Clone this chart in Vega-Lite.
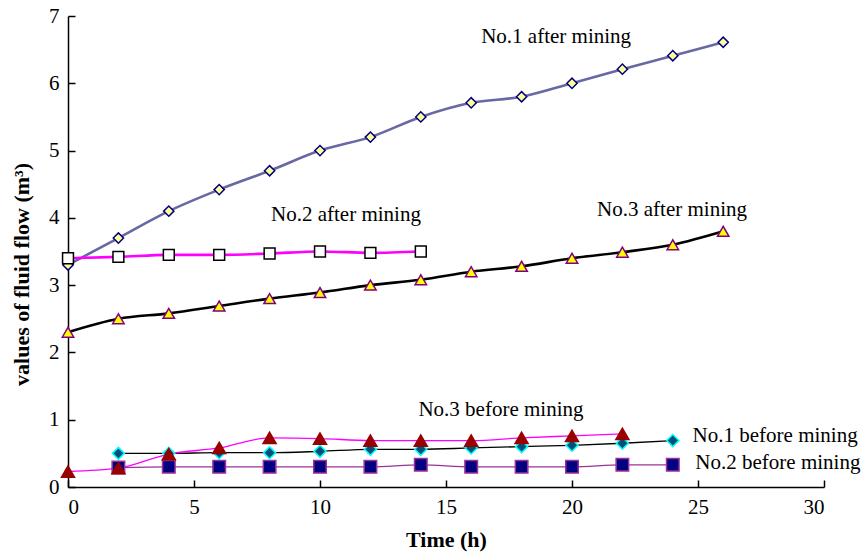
{
  "$schema": "https://vega.github.io/schema/vega-lite/v6.json",
  "width": 756,
  "height": 471,
  "autosize": "none",
  "padding": {"left": 68, "top": 16, "right": 38, "bottom": 66},
  "background": "white",
  "config": {
    "font": "Liberation Serif",
    "view": {"stroke": null},
    "axis": {
      "grid": false,
      "domainColor": "#000000",
      "domainWidth": 1.5,
      "tickColor": "#000000",
      "tickWidth": 1.5,
      "tickOpacity": 1,
      "labelFont": "Liberation Serif",
      "labelFontSize": 21,
      "labelColor": "#000000",
      "titleFont": "Liberation Serif",
      "titleFontSize": 22,
      "titleFontWeight": "bold",
      "titleColor": "#000000"
    }
  },
  "datasets": {
    "flow": [
      {"s": "No.1 after mining", "g": "after", "t": 0, "v": 3.3},
      {"s": "No.1 after mining", "g": "after", "t": 2, "v": 3.7},
      {"s": "No.1 after mining", "g": "after", "t": 4, "v": 4.1},
      {"s": "No.1 after mining", "g": "after", "t": 6, "v": 4.42},
      {"s": "No.1 after mining", "g": "after", "t": 8, "v": 4.7},
      {"s": "No.1 after mining", "g": "after", "t": 10, "v": 5.0},
      {"s": "No.1 after mining", "g": "after", "t": 12, "v": 5.2},
      {"s": "No.1 after mining", "g": "after", "t": 14, "v": 5.5},
      {"s": "No.1 after mining", "g": "after", "t": 16, "v": 5.71},
      {"s": "No.1 after mining", "g": "after", "t": 18, "v": 5.8},
      {"s": "No.1 after mining", "g": "after", "t": 20, "v": 6.0},
      {"s": "No.1 after mining", "g": "after", "t": 22, "v": 6.21},
      {"s": "No.1 after mining", "g": "after", "t": 24, "v": 6.41},
      {"s": "No.1 after mining", "g": "after", "t": 26, "v": 6.61},
      {"s": "No.2 after mining", "g": "after", "t": 0, "v": 3.4},
      {"s": "No.2 after mining", "g": "after", "t": 2, "v": 3.42},
      {"s": "No.2 after mining", "g": "after", "t": 4, "v": 3.45},
      {"s": "No.2 after mining", "g": "after", "t": 6, "v": 3.45},
      {"s": "No.2 after mining", "g": "after", "t": 8, "v": 3.47},
      {"s": "No.2 after mining", "g": "after", "t": 10, "v": 3.5},
      {"s": "No.2 after mining", "g": "after", "t": 12, "v": 3.48},
      {"s": "No.2 after mining", "g": "after", "t": 14, "v": 3.5},
      {"s": "No.3 after mining", "g": "after", "t": 0, "v": 2.3},
      {"s": "No.3 after mining", "g": "after", "t": 2, "v": 2.5},
      {"s": "No.3 after mining", "g": "after", "t": 4, "v": 2.58},
      {"s": "No.3 after mining", "g": "after", "t": 6, "v": 2.69},
      {"s": "No.3 after mining", "g": "after", "t": 8, "v": 2.8},
      {"s": "No.3 after mining", "g": "after", "t": 10, "v": 2.89},
      {"s": "No.3 after mining", "g": "after", "t": 12, "v": 3.0},
      {"s": "No.3 after mining", "g": "after", "t": 14, "v": 3.08},
      {"s": "No.3 after mining", "g": "after", "t": 16, "v": 3.2},
      {"s": "No.3 after mining", "g": "after", "t": 18, "v": 3.28},
      {"s": "No.3 after mining", "g": "after", "t": 20, "v": 3.4},
      {"s": "No.3 after mining", "g": "after", "t": 22, "v": 3.49},
      {"s": "No.3 after mining", "g": "after", "t": 24, "v": 3.6},
      {"s": "No.3 after mining", "g": "after", "t": 26, "v": 3.8},
      {"s": "No.1 before mining", "g": "before", "t": 2, "v": 0.5},
      {"s": "No.1 before mining", "g": "before", "t": 4, "v": 0.5},
      {"s": "No.1 before mining", "g": "before", "t": 6, "v": 0.51},
      {"s": "No.1 before mining", "g": "before", "t": 8, "v": 0.51},
      {"s": "No.1 before mining", "g": "before", "t": 10, "v": 0.53},
      {"s": "No.1 before mining", "g": "before", "t": 12, "v": 0.56},
      {"s": "No.1 before mining", "g": "before", "t": 14, "v": 0.56},
      {"s": "No.1 before mining", "g": "before", "t": 16, "v": 0.58},
      {"s": "No.1 before mining", "g": "before", "t": 18, "v": 0.6},
      {"s": "No.1 before mining", "g": "before", "t": 20, "v": 0.62},
      {"s": "No.1 before mining", "g": "before", "t": 22, "v": 0.65},
      {"s": "No.1 before mining", "g": "before", "t": 24, "v": 0.69},
      {"s": "No.2 before mining", "g": "before", "t": 2, "v": 0.29},
      {"s": "No.2 before mining", "g": "before", "t": 4, "v": 0.3},
      {"s": "No.2 before mining", "g": "before", "t": 6, "v": 0.3},
      {"s": "No.2 before mining", "g": "before", "t": 8, "v": 0.3},
      {"s": "No.2 before mining", "g": "before", "t": 10, "v": 0.3},
      {"s": "No.2 before mining", "g": "before", "t": 12, "v": 0.3},
      {"s": "No.2 before mining", "g": "before", "t": 14, "v": 0.33},
      {"s": "No.2 before mining", "g": "before", "t": 16, "v": 0.3},
      {"s": "No.2 before mining", "g": "before", "t": 18, "v": 0.3},
      {"s": "No.2 before mining", "g": "before", "t": 20, "v": 0.3},
      {"s": "No.2 before mining", "g": "before", "t": 22, "v": 0.33},
      {"s": "No.2 before mining", "g": "before", "t": 24, "v": 0.33},
      {"s": "No.3 before mining", "g": "before", "t": 0, "v": 0.23},
      {"s": "No.3 before mining", "g": "before", "t": 2, "v": 0.28},
      {"s": "No.3 before mining", "g": "before", "t": 4, "v": 0.49},
      {"s": "No.3 before mining", "g": "before", "t": 6, "v": 0.58},
      {"s": "No.3 before mining", "g": "before", "t": 8, "v": 0.73},
      {"s": "No.3 before mining", "g": "before", "t": 10, "v": 0.72},
      {"s": "No.3 before mining", "g": "before", "t": 12, "v": 0.69},
      {"s": "No.3 before mining", "g": "before", "t": 14, "v": 0.69},
      {"s": "No.3 before mining", "g": "before", "t": 16, "v": 0.69},
      {"s": "No.3 before mining", "g": "before", "t": 18, "v": 0.73},
      {"s": "No.3 before mining", "g": "before", "t": 20, "v": 0.76},
      {"s": "No.3 before mining", "g": "before", "t": 22, "v": 0.79}
    ],
    "labels": [
      {"text": "No.1 after mining", "t": 19.37, "v": 6.69},
      {"text": "No.2 after mining", "t": 11.03, "v": 4.04},
      {"text": "No.3 after mining", "t": 23.97, "v": 4.12},
      {"text": "No.3 before mining", "t": 17.18, "v": 1.14},
      {"text": "No.1 before mining", "t": 28.06, "v": 0.76},
      {"text": "No.2 before mining", "t": 28.17, "v": 0.35}
    ]
  },
  "encoding": {
    "x": {
      "field": "t", "type": "quantitative",
      "scale": {"domain": [0, 30], "nice": false},
      "axis": {"values": [0, 5, 10, 15, 20, 25, 30], "title": "Time (h)", "ticks": true, "tickSize": -7, "labelPadding": 16, "titlePadding": 12}
    },
    "y": {
      "field": "v", "type": "quantitative",
      "scale": {"domain": [0, 7], "nice": false},
      "axis": {"values": [0, 1, 2, 3, 4, 5, 6, 7], "title": "values of  fluid flow (m³)", "ticks": true, "tickSize": -7, "labelPadding": 16, "titleX": -35, "titleY": 258}
    }
  },
  "layer": [
    {
      "data": {"name": "flow"},
      "transform": [{"filter": "datum.g == 'after'"}],
      "mark": {"type": "line", "interpolate": "monotone", "strokeWidth": 2.6},
      "encoding": {
        "stroke": {
          "field": "s", "type": "nominal", "legend": null,
          "scale": {
            "domain": ["No.1 after mining", "No.2 after mining", "No.3 after mining", "No.1 before mining", "No.2 before mining", "No.3 before mining"],
            "range": ["#6868A2", "#FF00FF", "#000000", "#000000", "#993399", "#FF00FF"]
          }
        }
      }
    },
    {
      "data": {"name": "flow"},
      "transform": [{"filter": "datum.g == 'before'"}],
      "mark": {"type": "line", "interpolate": "monotone", "strokeWidth": 1.3},
      "encoding": {
        "stroke": {
          "field": "s", "type": "nominal", "legend": null,
          "scale": {
            "domain": ["No.1 after mining", "No.2 after mining", "No.3 after mining", "No.1 before mining", "No.2 before mining", "No.3 before mining"],
            "range": ["#6868A2", "#FF00FF", "#000000", "#000000", "#993399", "#FF00FF"]
          }
        }
      }
    },
    {
      "data": {"name": "flow"},
      "mark": {"type": "point", "opacity": 1, "fillOpacity": 1, "strokeWidth": 1.5},
      "encoding": {
        "shape": {
          "field": "s", "type": "nominal", "legend": null,
          "scale": {
            "domain": ["No.1 after mining", "No.2 after mining", "No.3 after mining", "No.1 before mining", "No.2 before mining", "No.3 before mining"],
            "range": ["diamond", "square", "triangle-up", "diamond", "square", "triangle-up"]
          }
        },
        "fill": {
          "field": "s", "type": "nominal", "legend": null,
          "scale": {
            "domain": ["No.1 after mining", "No.2 after mining", "No.3 after mining", "No.1 before mining", "No.2 before mining", "No.3 before mining"],
            "range": ["#FFFF99", "#FFFFFF", "#FFFF00", "#00507A", "#000080", "#990000"]
          }
        },
        "stroke": {
          "field": "s", "type": "nominal", "legend": null,
          "scale": {
            "domain": ["No.1 after mining", "No.2 after mining", "No.3 after mining", "No.1 before mining", "No.2 before mining", "No.3 before mining"],
            "range": ["#000080", "#000000", "#800080", "#00FFFF", "#993399", "#990000"]
          }
        },
        "size": {
          "field": "s", "type": "nominal", "legend": null,
          "scale": {
            "domain": ["No.1 after mining", "No.2 after mining", "No.3 after mining", "No.1 before mining", "No.2 before mining", "No.3 before mining"],
            "range": [105, 170, 110, 70, 90, 120]
          }
        }
      }
    },
    {
      "data": {"name": "labels"},
      "mark": {"type": "text", "font": "Liberation Serif", "fontSize": 21, "color": "#000000", "align": "center", "baseline": "middle"},
      "encoding": {"text": {"field": "text", "type": "nominal"}}
    }
  ],
  "resolve": {"scale": {"stroke": "independent", "fill": "independent", "shape": "independent", "size": "independent"}}
}
